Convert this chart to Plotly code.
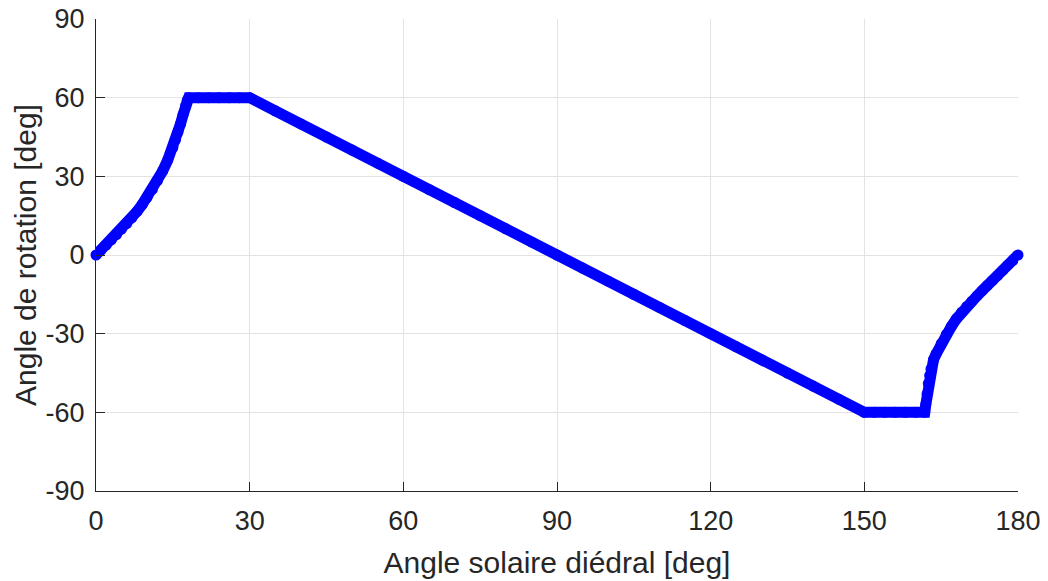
import plotly.graph_objects as go

# Values
rise_x = [0, 1, 2, 3, 4, 5, 6, 7, 8, 9, 10, 11, 12, 13, 14, 15, 15.5, 16, 16.5, 17, 17.5, 17.8, 18.1]
rise_y = [0, 1.9, 3.8, 5.8, 7.8, 9.9, 12.0, 14.2, 16.6, 19.2, 22.0, 25.0, 28.4, 32.0, 36.2, 41.0, 43.8, 46.8, 50.0, 53.5, 57.0, 59.0, 60]

top_x = [20, 22, 24, 26, 28, 30]
top_y = [60, 60, 60, 60, 60, 60]

slope_x = [35, 40, 45, 50, 55, 60, 65, 70, 75, 80, 85, 90, 95, 100, 105, 110, 115, 120, 125, 130, 135, 140, 145, 150]
slope_y = [55, 50, 45, 40, 35, 30, 25, 20, 15, 10, 5, 0, -5, -10, -15, -20, -25, -30, -35, -40, -45, -50, -55, -60]

bottom_x = [152, 154, 156, 158, 160, 161.8]
bottom_y = [-60, -60, -60, -60, -60, -60]

fall_x = [162.0, 162.25, 162.5, 162.75, 163, 163.5, 164, 165, 166, 167, 168, 169, 170, 171, 172, 173, 174, 175, 176, 177, 178, 179, 180]
fall_y = [-57, -53, -49, -46, -43.5, -40, -37.8, -33.8, -30.3, -27.2, -24.3, -21.8, -19.6, -17.6, -15.6, -13.6, -11.7, -9.8, -7.9, -5.9, -3.9, -2.0, 0]

x_vals = rise_x + top_x + slope_x + bottom_x + fall_x
y_vals = rise_y + top_y + slope_y + bottom_y + fall_y

tick_vals = [0, 30, 60, 90, 120, 150, 180]
ytick_vals = [-90, -60, -30, 0, 30, 60, 90]

BLUE = "rgb(0,0,255)"
AXC = "#262626"
GRID = "#e3e3e3"
FONT = "Liberation Sans, Arial, Helvetica, sans-serif"

fig = go.Figure()
fig.add_trace(go.Scatter(
    x=x_vals, y=y_vals, mode="lines+markers",
    line=dict(color=BLUE, width=11),
    marker=dict(color=BLUE, size=11, symbol="circle", line=dict(width=0)),
    showlegend=False, hoverinfo="skip", cliponaxis=False,
))

fig.update_layout(
    width=1048, height=581,
    margin=dict(l=96, r=30, t=19, b=90),
    paper_bgcolor="white", plot_bgcolor="white",
    font=dict(family=FONT, color=AXC, size=27),
)
fig.update_xaxes(
    range=[0, 180], tickvals=tick_vals, ticktext=[str(v) for v in tick_vals],
    showgrid=True, gridcolor=GRID, gridwidth=1, zeroline=False,
    showline=True, linecolor=AXC, linewidth=1, mirror=False,
    ticks="inside", ticklen=9, tickcolor=AXC, tickwidth=1, automargin=False,
    tickfont=dict(size=27, color=AXC, family=FONT), ticklabelstandoff=6,
    ticklabeloverflow="allow",
    title=dict(text="Angle solaire diédral [deg]", font=dict(size=30, color=AXC, family=FONT), standoff=16),
)
fig.update_yaxes(
    range=[-90, 90], tickvals=ytick_vals, ticktext=[str(v) for v in ytick_vals],
    showgrid=True, gridcolor=GRID, gridwidth=1, zeroline=False,
    showline=True, linecolor=AXC, linewidth=1, mirror=False,
    ticks="inside", ticklen=9, tickcolor=AXC, tickwidth=1, automargin=False,
    tickfont=dict(size=27, color=AXC, family=FONT), ticklabelstandoff=5,
    ticklabeloverflow="allow",
    title=dict(text="Angle de rotation [deg]", font=dict(size=30, color=AXC, family=FONT), standoff=0),
)

fig.write_html(
    "out.html",
    config={"displayModeBar": False},
    post_script="document.body.style.margin='0';document.body.style.overflow='hidden';",
)
